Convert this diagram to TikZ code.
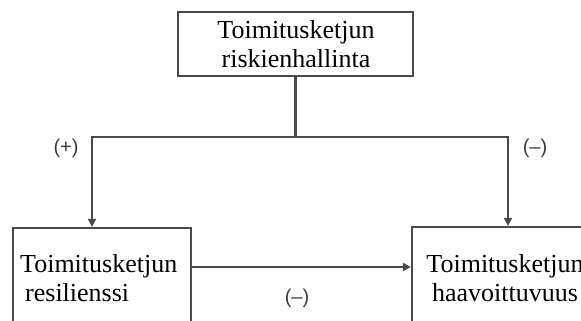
\documentclass[tikz,border=0pt]{standalone}
\usepackage{fontspec}
\setmainfont{Liberation Serif}
\newfontfamily\lblfont{Liberation Sans}
\usetikzlibrary{arrows.meta}
\definecolor{linegray}{HTML}{4A4A4A}
\definecolor{lblgray}{HTML}{3C3C3C}
\tikzset{
  boxstyle/.style={draw=linegray, line width=2.2pt, fill=white, inner sep=0pt},
  boxtext/.style={font=\fontsize{26}{28.5}\selectfont, align=center, inner sep=0pt, text=black},
  conn/.style={draw=linegray, line width=2.2pt},
  arr/.style={conn, -{Triangle[length=8pt,width=8pt]}},
  lbl/.style={font=\lblfont\fontsize{20}{22}\selectfont, text=lblgray, inner sep=0pt}
}
\begin{document}
\begin{tikzpicture}[x=1pt,y=-1pt]
\useasboundingbox (0,0) rectangle (581,321);
\clip (0,0) rectangle (581,321);
\fill[white] (0,0) rectangle (581,321);
% boxes
\node[boxstyle, minimum width=235pt, minimum height=64pt] (top) at (295.5,44) {};
\node[boxstyle, minimum width=178pt, minimum height=120pt] (lbox) at (102,288) {};
\node[boxstyle, minimum width=186pt, minimum height=120pt] (rbox) at (505,287) {};
% texts
\node[boxtext] (ttop) at (296,44) {Toimitusketjun\\riskienhallinta};
\node[boxtext, align=left, anchor=west] (tl) at (20,278) {Toimitusketjun\\\hspace{5pt}resilienssi};
\node[boxtext] (tr) at (505,278) {Toimitusketjun\\haavoittuvuus};
% junction coordinates
\coordinate (jl) at (92,137);
\coordinate (jr) at (508,137);
\coordinate (h) at (0,267);
% connectors
\draw[conn] (top.south) -- (top.south |- jl);
\draw[arr] (top.south |- jl) -- (jl) -- (jl |- lbox.north);
\draw[arr] (top.south |- jr) -- (jr) -- (jr |- rbox.north);
\draw[arr] (lbox.east |- h) -- (rbox.west |- h);
% labels
\node[lbl] (lp) at (66,148) {(+)};
\node[lbl] (lm) at (535,148) {(–)};
\node[lbl] (lb) at (297,298) {(–)};
\end{tikzpicture}
\end{document}
